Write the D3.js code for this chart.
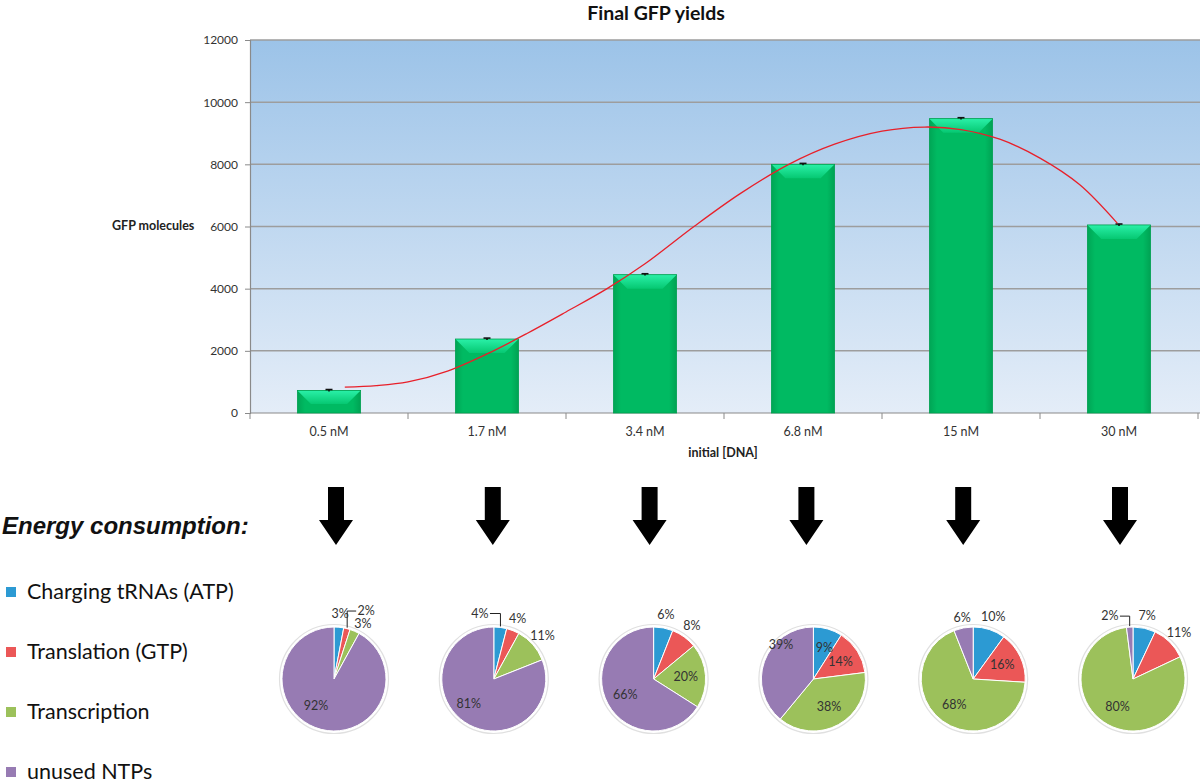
<!DOCTYPE html>
<html><head><meta charset="utf-8">
<script src="https://cdn.jsdelivr.net/npm/d3@7"></script>
<style>body{margin:0;background:#fff}svg{display:block}</style>
</head><body>
<svg id="c" width="1200" height="784"></svg>
<script>
// ---- data ----
const categories = ["0.5 nM","1.7 nM","3.4 nM","6.8 nM","15 nM","30 nM"];
const yields = [725, 2380, 4450, 8000, 9470, 6050];
const yieldErr = [30, 30, 30, 30, 30, 30];
const yTicks = [0, 2000, 4000, 6000, 8000, 10000, 12000];
// polynomial trend line (category position, value)
const trendPos = [0.1,0.3,0.5,0.75,1.0,1.25,1.5,1.76,2.0,2.31,2.6,2.91,3.2,3.5,3.77,4.0,4.25,4.5,4.75,4.99];
const trendVal = [832,880,1000,1350,1900,2550,3250,4000,4800,6000,7050,8000,8650,9070,9200,9120,8800,8200,7350,6100];
const seriesNames = ["Charging tRNAs (ATP)","Translation (GTP)","Transcription","unused NTPs"];
const pieCharging = [3, 4, 6, 9, 10, 7];
const pieTranslation = [2, 4, 8, 14, 16, 11];
const pieTranscription = [3, 11, 20, 38, 68, 80];
const pieUnused = [92, 81, 66, 39, 6, 2];

// ---- style / layout ----
const colors = ["#2C9AD3","#EB5757","#9CC15B","#977BB3"];
const font = "Lato, 'Noto Sans', sans-serif";
const placement = [
  ["out","out","out","in"],
  ["out","out","out","in"],
  ["out","out","in","in"],
  ["in","in","in","in"],
  ["out","in","in","out"],
  ["out","out","in","out"]];
const nudges = {"0-1":[16,-5,1],"0-2":[3,5,0],"1-0":[-22,-1,1],"5-3":[-19,2,1],"3-3":[-2,-23,0],"0-3":[-10,-4,0],"1-3":[-7,-2,0],"4-3":[1,3,0],"3-0":[2,0,0]};

const svg = d3.select("#c");
const plot = {l:250, r:1198, t:40, b:413};

const defs = svg.append("defs");
const bgGrad = defs.append("linearGradient").attr("id","bg").attr("x1",0).attr("y1",0).attr("x2",0).attr("y2",1);
bgGrad.append("stop").attr("offset","0%").attr("stop-color","#9CC3E8");
bgGrad.append("stop").attr("offset","100%").attr("stop-color","#E4EDF8");
const barGrad = defs.append("linearGradient").attr("id","bar").attr("x1",0).attr("y1",0).attr("x2",1).attr("y2",0);
barGrad.append("stop").attr("offset","0%").attr("stop-color","#00A555");
barGrad.append("stop").attr("offset","12%").attr("stop-color","#00BA62");
barGrad.append("stop").attr("offset","88%").attr("stop-color","#00BA62");
barGrad.append("stop").attr("offset","100%").attr("stop-color","#00A253");
const bevelGrad = defs.append("linearGradient").attr("id","bevel").attr("x1",0).attr("y1",0).attr("x2",0).attr("y2",1);
bevelGrad.append("stop").attr("offset","0%").attr("stop-color","#2AF0A8");
bevelGrad.append("stop").attr("offset","100%").attr("stop-color","#06C872");

// scales
const xBand = d3.scaleBand().domain(categories).range([plot.l, plot.r]).padding(0);
const xPos = d3.scaleLinear().domain([-0.5, categories.length - 0.5]).range([plot.l, plot.r]);
const y = d3.scaleLinear().domain([0, 12000]).range([plot.b, plot.t]);

// plot background
svg.append("rect").attr("x", plot.l).attr("y", plot.t).attr("width", 1200 - plot.l).attr("height", plot.b - plot.t).attr("fill","url(#bg)");

// gridlines
svg.append("g").selectAll("line").data(yTicks.filter(d=>d>0)).join("line")
  .attr("x1", plot.l).attr("x2", 1200).attr("y1", d=>y(d)).attr("y2", d=>y(d))
  .attr("stroke","#9d9d9d").attr("stroke-width",1.5);

// y axis
const yAxis = svg.append("g").attr("transform",`translate(${plot.l},0)`)
  .call(d3.axisLeft(y).tickValues(yTicks).tickFormat(d3.format("d")).tickSize(5).tickPadding(7));
yAxis.select(".domain").attr("stroke","#8a8a8a").attr("stroke-width",1.2);
yAxis.selectAll(".tick line").attr("stroke","#8a8a8a");
yAxis.selectAll("text").attr("font-family",font).attr("font-size",12).attr("fill","#333");

// x axis
const xAxis = svg.append("g").attr("transform",`translate(0,${plot.b})`)
  .call(d3.axisBottom(xBand).tickSize(0).tickPadding(14));
xAxis.select(".domain").attr("d",`M${plot.l},0H1200`).attr("stroke","#8a8a8a").attr("stroke-width",1.2);
xAxis.selectAll("text").attr("font-family",font).attr("font-size",12.5).attr("fill","#333");
svg.append("g").selectAll("line").data(d3.range(categories.length+1)).join("line")
  .attr("x1", i=>xPos(i-0.5)).attr("x2", i=>xPos(i-0.5)).attr("y1", plot.b).attr("y2", plot.b+6)
  .attr("stroke","#8a8a8a");

// bars
const bw = xBand.bandwidth()*0.4;
const bars = svg.append("g").selectAll("g").data(yields).join("g");
bars.append("rect").attr("x",(d,i)=>xPos(i)-bw/2).attr("y",d=>y(d)).attr("width",bw).attr("height",d=>plot.b-y(d)).attr("fill","url(#bar)");
bars.append("path").attr("d",(d,i)=>{
  const x0 = xPos(i)-bw/2, x1 = xPos(i)+bw/2, y0 = y(d), h = Math.min(14, (plot.b-y(d))*0.6);
  return `M${x0},${y0}L${x1},${y0}L${x1-h},${y0+h}L${x0+h},${y0+h}Z`;
}).attr("fill","url(#bevel)");
bars.append("rect").attr("x",(d,i)=>xPos(i)-bw/2).attr("y",d=>y(d)).attr("width",bw).attr("height",d=>plot.b-y(d))
  .attr("fill","none").attr("stroke","#00A050").attr("stroke-width",0.8);

// error bars
const eb = svg.append("g").selectAll("g").data(yields).join("g").attr("stroke","#111").attr("stroke-width",1.6);
eb.append("line").attr("x1",(d,i)=>xPos(i)).attr("x2",(d,i)=>xPos(i)).attr("y1",(d,i)=>y(d+yieldErr[i])).attr("y2",(d,i)=>y(d-yieldErr[i]));
eb.append("line").attr("x1",(d,i)=>xPos(i)-3.5).attr("x2",(d,i)=>xPos(i)+3.5).attr("y1",(d,i)=>y(d+yieldErr[i])).attr("y2",(d,i)=>y(d+yieldErr[i]));

// trend line
const trend = trendPos.map((p,i)=>[p, trendVal[i]]);
svg.append("path").datum(trend)
  .attr("d", d3.line().x(d=>xPos(d[0])).y(d=>y(d[1])).curve(d3.curveCatmullRom))
  .attr("fill","none").attr("stroke","#E8202A").attr("stroke-width",1.3);

// titles
svg.append("text").attr("x",656).attr("y",20).attr("text-anchor","middle").attr("font-family",font)
  .attr("font-weight","bold").attr("font-size",19.5).attr("fill","#111").text("Final GFP yields");
svg.append("text").attr("x",112).attr("y",230).attr("font-family",font).attr("font-weight","bold")
  .attr("font-size",12.5).attr("fill","#222").text("GFP molecules");
svg.append("text").attr("x",723).attr("y",457).attr("text-anchor","middle").attr("font-family",font).attr("font-weight","bold")
  .attr("font-size",12.5).attr("fill","#222").text("initial [DNA]");

// Energy consumption heading
svg.append("text").attr("x",2).attr("y",534).attr("font-family","'Liberation Sans', Arial, sans-serif")
  .attr("font-weight","bold").attr("font-style","italic").attr("font-size",24).attr("fill","#111").text("Energy consumption:");

// legend
const leg = svg.append("g").selectAll("g").data(seriesNames).join("g")
  .attr("transform",(d,i)=>`translate(6,${592 + i*60})`);
leg.append("rect").attr("x",0).attr("y",-5).attr("width",10).attr("height",10).attr("fill",(d,i)=>colors[i]);
leg.append("text").attr("x",21).attr("y",7).attr("font-family",font).attr("font-size",21.5).attr("fill","#111").text(d=>d);

// arrows
const arrowX = d3.scaleLinear().domain([0,5]).range([336,1120]);
svg.append("g").selectAll("path").data(categories).join("path")
  .attr("d",(d,i)=>{const c = arrowX(i);
    return `M${c-8},487L${c+8},487L${c+8},520L${c+17},520L${c},545L${c-17},520L${c-8},520Z`;})
  .attr("fill","#000");

// pies
const pieX = d3.scaleLinear().domain([0,5]).range([334,1133]);
const cy = 679, R = 52;
const pieGen = d3.pie().sort(null).startAngle(0).endAngle(2*Math.PI);
const arc = d3.arc().innerRadius(0).outerRadius(R);
categories.forEach((c, pi)=>{
  const vals = [pieCharging[pi], pieTranslation[pi], pieTranscription[pi], pieUnused[pi]];
  const g = svg.append("g").attr("transform",`translate(${pieX(pi)},${cy})`);
  g.append("circle").attr("r",R+2.5).attr("fill","#fff").attr("stroke","#e0e0e0").attr("stroke-width",1.2);
  const arcs = pieGen(vals);
  g.selectAll("path.s").data(arcs).join("path").attr("class","s").attr("d",arc)
    .attr("fill",(d,i)=>colors[i]).attr("stroke","#fff").attr("stroke-width",1);
  arcs.forEach((a,si)=>{
    const mid = (a.startAngle + a.endAngle)/2;
    const rr = placement[pi][si]==="out" ? R*1.25 : R*0.62;
    let lx = Math.sin(mid)*rr, ly = -Math.cos(mid)*rr;
    const nz = nudges[`${pi}-${si}`];
    if (nz){ lx += nz[0]; ly += nz[1]; }
    g.append("text").attr("x",lx).attr("y",ly+4).attr("text-anchor","middle")
      .attr("font-family",font).attr("font-size",12.5).attr("fill","#333").text(vals[si]+"%");
    if (nz && nz[2]){
      const ex = Math.sin(mid)*(R+1), ey = -Math.cos(mid)*(R+1);
      const side = lx < ex ? 1 : -1;
      const sx = lx + side*10;
      g.append("path").attr("d",`M${sx},${ly}L${ex},${ly}L${ex},${ey}`).attr("fill","none").attr("stroke","#222").attr("stroke-width",1);
    }
  });
});
</script>
</body></html>
